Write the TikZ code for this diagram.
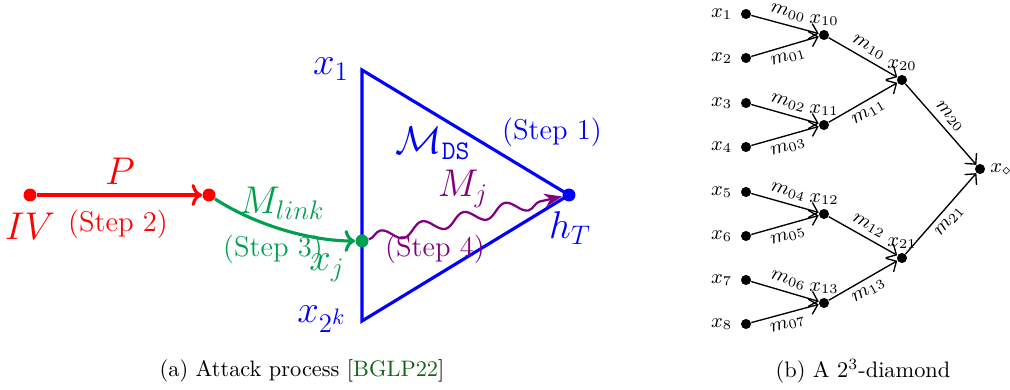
\documentclass[tikz,border=0pt]{standalone}
\usepackage{amsmath,amssymb}
\usepackage{xcolor}
\usetikzlibrary{positioning, calc, arrows.meta}
\usetikzlibrary{decorations.pathmorphing}
\definecolor{cR}{RGB}{255,0,0}
\definecolor{cB}{RGB}{0,0,255}
\definecolor{cG}{RGB}{0,160,80}
\definecolor{cP}{RGB}{128,0,128}
\definecolor{cC}{RGB}{20,100,20}

\begin{document}
\begin{tikzpicture}[x=0.447pt, y=-0.447pt,
   dot/.style={circle, fill, inner sep=0pt, minimum size=5.8pt},
   sdot/.style={circle, fill, inner sep=0pt, minimum size=4.5pt},
   lbl/.style={inner sep=1pt, font=\small},
   elbl/.style={inner sep=2.4pt, font=\small},
   big/.style={font=\LARGE},
   stp/.style={font=\fontsize{12.8}{15}\selectfont}]
   \useasboundingbox (0,0) rectangle (1010,390);

   % (a) Attack process
   \coordinate (t1) at (362,70);
   \coordinate (t2) at (362,321);
   \coordinate (tT) at (569,195);
   \draw[cB, line width=1.4pt] (t1) -- (tT) -- (t2) -- cycle;

   \node[dot, cR] (iv) at (30,195) {};
   \node[dot, cR] (p) at (209,195) {};
   \node[dot, cG] (xj) at (362,241) {};
   \node[dot, cB] (hT) at (tT) {};

   \draw[cR, line width=1.4pt, ->] (iv) -- (p);
   \draw[cG, line width=1.4pt, ->] (p) .. controls (255,225) and (310,241) .. (xj);
   \draw[cP, line width=1pt, -{Stealth[length=8pt, width=6pt]}, decorate,
      decoration={snake, amplitude=2.8pt, segment length=19pt, post length=6pt}] (xj) -- (hT);

   \node[cR, big] (lP) at (120,171) {$P$};
   \node[cR, big] (lIV) at (30,226) {$IV$};
   \node[cR, stp] (s2) at (118,224) {(Step 2)};
   \node[cG, big] (lMl) at (282,203) {$M_{link}$};
   \node[cG, stp] (s3) at (273,249) {(Step 3)};
   \node[cG, big] (lxj) at (327,268) {$x_j$};
   \node[cB, big] (lx1) at (331,69) {$x_1$};
   \node[cB, big] (lx2k) at (322,319) {$x_{2^k}$};
   \node[cB, big] (lMDS) at (433,143) {$\mathcal{M}_{\mathtt{DS}}$};
   \node[cB, stp] (s1) at (552,132) {(Step 1)};
   \node[cB, big] (lhT) at (570,228) {$h_T$};
   \node[cP, big] (lMj) at (463,189) {$M_j$};
   \node[cP, stp] (s4) at (435,249) {(Step 4)};

   % (b) A 2^3-diamond
   \node[sdot] (x1) at (746,14) {};
   \node[sdot] (x2) at (746,58) {};
   \node[sdot] (x3) at (746,103) {};
   \node[sdot] (x4) at (746,147) {};
   \node[sdot] (x5) at (746,192) {};
   \node[sdot] (x6) at (746,236) {};
   \node[sdot] (x7) at (746,280) {};
   \node[sdot] (x8) at (746,324) {};
   \node[sdot] (x10) at (824,35) {};
   \node[sdot] (x11) at (824,125) {};
   \node[sdot] (x12) at (824,214) {};
   \node[sdot] (x13) at (824,303) {};
   \node[sdot] (x20) at (902,80) {};
   \node[sdot] (x21) at (902,258) {};
   \node[sdot] (xo) at (980,169) {};

   \node[lbl, left=2.5pt of x1] (lx1d) {$x_1$};
   \node[lbl, left=2.5pt of x2] (lx2d) {$x_2$};
   \node[lbl, left=2.5pt of x3] (lx3d) {$x_3$};
   \node[lbl, left=2.5pt of x4] (lx4d) {$x_4$};
   \node[lbl, left=2.5pt of x5] (lx5d) {$x_5$};
   \node[lbl, left=2.5pt of x6] (lx6d) {$x_6$};
   \node[lbl, left=2.5pt of x7] (lx7d) {$x_7$};
   \node[lbl, left=2.5pt of x8] (lx8d) {$x_8$};
   \node[lbl, above=0.5pt of x10] (lx10) {$x_{10}$};
   \node[lbl, above=0.5pt of x11] (lx11) {$x_{11}$};
   \node[lbl, above=0.5pt of x12] (lx12) {$x_{12}$};
   \node[lbl, above=0.5pt of x13] (lx13) {$x_{13}$};
   \node[lbl, above=0.5pt of x20] (lx20) {$x_{20}$};
   \node[lbl, above=0.5pt of x21] (lx21) {$x_{21}$};
   \node[lbl, right=1pt of xo] (lxo) {$x_\diamond$};

   % Edges
   \path[-{Straight Barb[length=3.5pt, width=7pt]}, semithick]
   (x1) edge node[elbl, sloped, above] {$m_{00}$} (x10)
   (x2) edge node[elbl, sloped, below] {$m_{01}$} (x10)
   (x3) edge node[elbl, sloped, above] {$m_{02}$} (x11)
   (x4) edge node[elbl, sloped, below] {$m_{03}$} (x11)
   (x5) edge node[elbl, sloped, above] {$m_{04}$} (x12)
   (x6) edge node[elbl, sloped, below] {$m_{05}$} (x12)
   (x7) edge node[elbl, sloped, above] {$m_{06}$} (x13)
   (x8) edge node[elbl, sloped, below] {$m_{07}$} (x13)
   (x10) edge node[elbl, sloped, above] {$m_{10}$} (x20)
   (x11) edge node[elbl, sloped, below] {$m_{11}$} (x20)
   (x12) edge node[elbl, sloped, above] {$m_{12}$} (x21)
   (x13) edge node[elbl, sloped, below] {$m_{13}$} (x21)
   (x20) edge node[elbl, sloped, above] {$m_{20}$} (xo)
   (x21) edge node[elbl, sloped, below] {$m_{21}$} (xo);

   % Captions
   \node (capA) at (302,371) {(a) Attack process [\textcolor{cC}{BGLP22}]};
   \node (capB) at (863,371) {(b) A $2^3$-diamond};
\end{tikzpicture}
\end{document}
